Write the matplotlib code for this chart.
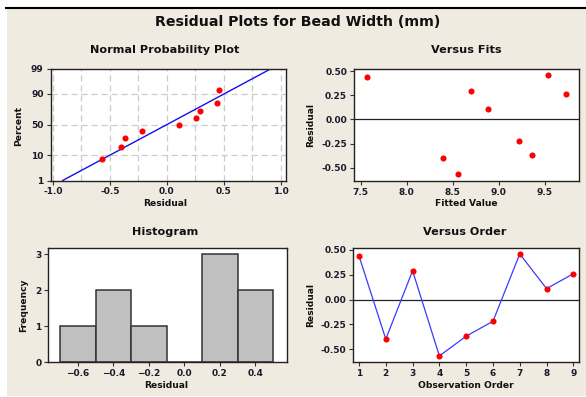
import matplotlib
matplotlib.use("Agg")
import matplotlib.pyplot as plt
from matplotlib.patches import Rectangle
from statistics import NormalDist
import numpy as np

# residuals in observation order, and the matching fitted values
residuals = [0.44, -0.40, 0.29, -0.57, -0.37, -0.22, 0.46, 0.11, 0.26]
fitted = [7.565, 8.39, 8.70, 8.56, 9.36, 9.22, 9.53, 8.88, 9.73]
order = list(range(1, 10))
hist_bins = [-0.7, -0.5, -0.3, -0.1, 0.1, 0.3, 0.5]
pct_ticks = [1, 10, 50, 90, 99]

W, H = 586, 397
BG = "#efebe1"
TXT = "#1a1a2a"
nd = NormalDist()

fig = plt.figure(figsize=(W / 100, H / 100), dpi=100, facecolor="white")
fig.patches.append(Rectangle((7 / W, 1 - 396 / H), 1, (396 - 8) / H,
                             transform=fig.transFigure, fc=BG, ec="none", zorder=-10))
fig.lines.append(plt.Line2D([6 / W, 1], [1 - 8 / H, 1 - 8 / H], transform=fig.transFigure,
                            color="black", lw=1.5))


def add_ax(l, t, r, b):
    return fig.add_axes([l / W, 1 - b / H, (r - l) / W, (b - t) / H])


def style(ax):
    ax.set_facecolor("white")
    for s in ax.spines.values():
        s.set_color("#222222")
        s.set_linewidth(1.0)
    ax.tick_params(length=3, width=0.8, pad=2, labelsize=6.5, labelcolor=TXT, colors="#333333")
    for lab in ax.get_xticklabels() + ax.get_yticklabels():
        lab.set_fontweight("bold")


def ftext(x, y, s, size, **kw):
    fig.text(x / W, 1 - y / H, s, ha="center", va="center", fontsize=size,
             fontweight="bold", color="#111111", **kw)


ftext(298, 22, "Residual Plots for Bead Width (mm)", 10.2)
ftext(165, 50, "Normal Probability Plot", 8.1)
ftext(466, 50, "Versus Fits", 8.1)
ftext(165, 232, "Histogram", 8.1)
ftext(465, 232, "Versus Order", 8.1)
ftext(165, 204, "Residual", 6.6)
ftext(466, 204, "Fitted Value", 6.6)
ftext(166, 385, "Residual", 6.6)
ftext(466, 385, "Observation Order", 6.6)
ftext(19, 126, "Percent", 6.6, rotation=90)
ftext(311, 125, "Residual", 6.6, rotation=90)
ftext(24, 305, "Frequency", 6.6, rotation=90)
ftext(311, 305, "Residual", 6.6, rotation=90)

# normal probability plot
ax1 = add_ax(50.5, 68.7, 286, 180.5)
n = len(residuals)
xs = np.sort(residuals)
zs = [nd.inv_cdf((i + 1 - 0.3) / (n + 0.4)) for i in range(n)]
mu, sd = np.mean(residuals), np.std(residuals, ddof=1)
zl = np.array([nd.inv_cdf(0.01), nd.inv_cdf(0.99)])
ax1.set_xlim(-1.022, 1.047)
ax1.set_ylim(zl[0], zl[1])
for gx in np.arange(-1.0, 1.01, 0.25):
    ax1.axvline(gx, color="#cccccc", lw=0.9, ls=(0, (5, 3)), zorder=0)
for gp in [10, 50, 90, 99]:
    ax1.axhline(nd.inv_cdf(gp / 100), color="#cccccc", lw=0.9, ls=(0, (5, 3)), zorder=0)
ax1.plot(mu + sd * zl, zl, color="#1010f0", lw=1.0, zorder=2)
ax1.plot(xs, zs, "o", color="#ff0000", ms=4.4, mec="none", zorder=3)
ax1.set_xticks([-1.0, -0.5, 0.0, 0.5, 1.0])
ax1.set_xticklabels(["-1.0", "-0.5", "0.0", "0.5", "1.0"])
ax1.set_yticks([nd.inv_cdf(p / 100) for p in pct_ticks])
ax1.set_yticklabels([str(p) for p in pct_ticks])
style(ax1)

# versus fits
ax2 = add_ax(354, 69.3, 579, 181)
ax2.axhline(0, color="#222222", lw=0.9, zorder=1)
ax2.plot(fitted, residuals, "o", color="#ff0000", ms=4.4, mec="none", zorder=3)
ax2.set_xlim(7.427, 9.87)
ax2.set_ylim(-0.638, 0.518)
ax2.set_xticks([7.5, 8.0, 8.5, 9.0, 9.5])
ax2.set_yticks([0.5, 0.25, 0.0, -0.25, -0.5])
ax2.set_yticklabels(["%.2f" % v for v in [0.5, 0.25, 0.0, -0.25, -0.5]])
style(ax2)

# histogram
ax3 = add_ax(48.3, 248.3, 287.3, 362.3)
ax3.hist(residuals, bins=hist_bins, color="#c0c0c0", edgecolor="#333333", linewidth=1.1)
ax3.set_xlim(-0.766, 0.58)
ax3.set_ylim(0, 3.17)
ax3.set_xticks([-0.6, -0.4, -0.2, 0.0, 0.2, 0.4])
ax3.set_yticks([0, 1, 2, 3])
style(ax3)

# versus order
ax4 = add_ax(353.3, 248.3, 578.7, 362.3)
ax4.axhline(0, color="#222222", lw=0.9, zorder=1)
ax4.plot(order, residuals, "-", color="#3a3aff", lw=0.9, zorder=2)
ax4.plot(order, residuals, "o", color="#ff0000", ms=4.4, mec="none", zorder=3)
ax4.set_xlim(0.787, 9.2)
ax4.set_ylim(-0.634, 0.517)
ax4.set_xticks(order)
ax4.set_yticks([0.5, 0.25, 0.0, -0.25, -0.5])
ax4.set_yticklabels(["%.2f" % v for v in [0.5, 0.25, 0.0, -0.25, -0.5]])
style(ax4)

fig.savefig("out.png", dpi=100, facecolor="white")
